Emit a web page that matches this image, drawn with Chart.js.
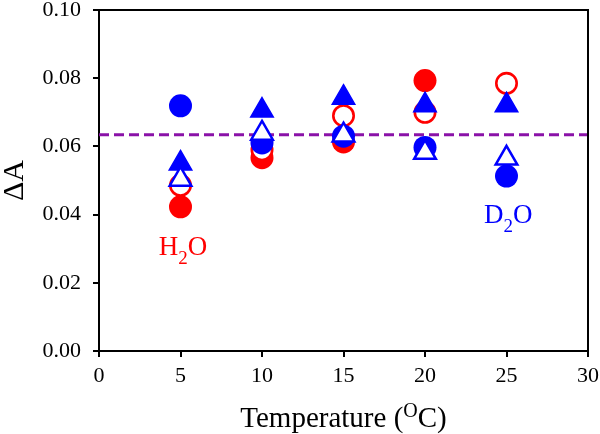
<!DOCTYPE html>
<html>
<head>
<meta charset="utf-8">
<script src="https://cdn.jsdelivr.net/npm/chart.js@4.4.1/dist/chart.umd.min.js"></script>
<style>
    html, body { margin: 0; padding: 0; background: #ffffff; }
</style>
</head>
<body>
<canvas id="deltaChart" width="600" height="434"></canvas>
<script>
// Data
const temps = [5, 10, 15, 20, 25];
const h2oFilled = [0.0423, 0.0567, 0.0613, 0.0793, null];
const h2oOpen = [0.0486, 0.0590, 0.0690, 0.0700, 0.0785];
const d2oCircle = [0.0719, 0.0610, 0.0630, 0.0597, 0.0513];
const d2oTriFilled = [0.0550, 0.0705, 0.0743, 0.0721, 0.0721];
const d2oTriOpen = [0.0503, 0.0638, 0.0633, 0.0582, 0.0565];
const meanLevel = 0.0634;
const xRange = [0, 30];
const yTickLabels = ['0.00', '0.02', '0.04', '0.06', '0.08', '0.10'];
const xTickLabels = ['0', '5', '10', '15', '20', '25', '30'];
// in-plot labels: [text, subscript, rest, x, y, colour]
const seriesLabels = [
    ['H', '2', 'O', 5.15, 0.0282, '#ff0000'],
    ['D', '2', 'O', 25.1, 0.0375, '#0000ff']
];

const RED = '#ff0000';
const BLUE = '#0000ff';
const SERIF = "'Liberation Serif', 'Times New Roman', serif";

function toPoints(values) {
    const pts = [];
    values.forEach((v, i) => {
        if (v !== null) pts.push({ x: temps[i], y: v });
    });
    return pts;
}

// Frame, axis titles and H2O / D2O labels
const decorPlugin = {
    id: 'decor',
    afterDraw(chart) {
        const ctx = chart.ctx;
        const area = chart.chartArea;
        ctx.save();

        // top and right frame
        ctx.strokeStyle = '#000';
        ctx.lineWidth = 2;
        ctx.beginPath();
        ctx.moveTo(area.left, area.top);
        ctx.lineTo(area.right, area.top);
        ctx.lineTo(area.right, area.bottom);
        ctx.stroke();

        // x title with superscript
        ctx.fillStyle = '#000';
        ctx.textBaseline = 'alphabetic';
        ctx.textAlign = 'left';
        const big = '29px ' + SERIF;
        const small = '20px ' + SERIF;
        ctx.font = big;
        const w1 = ctx.measureText('Temperature (').width;
        const w3 = ctx.measureText('C)').width;
        ctx.font = small;
        const w2 = ctx.measureText('O').width;
        let x = (area.left + area.right) / 2 - (w1 + w2 + w3) / 2;
        const base = 427;
        ctx.font = big;
        ctx.fillText('Temperature (', x, base);
        ctx.font = small;
        ctx.fillText('O', x + w1, base - 10);
        ctx.font = big;
        ctx.fillText('C)', x + w1 + w2, base);

        // y title
        ctx.save();
        ctx.translate(23, (area.top + area.bottom) / 2);
        ctx.rotate(-Math.PI / 2);
        ctx.textAlign = 'center';
        ctx.font = '30px ' + SERIF;
        ctx.fillText('\u0394A', 0, 0);
        ctx.restore();

        // series labels
        const xs = chart.scales.x;
        const ys = chart.scales.y;
        seriesLabels.forEach(([a, sub, b, vx, vy, color]) => {
            const f1 = '27px ' + SERIF;
            const f2 = '19px ' + SERIF;
            ctx.font = f1;
            const wa = ctx.measureText(a).width;
            const wb = ctx.measureText(b).width;
            ctx.font = f2;
            const ws = ctx.measureText(sub).width;
            let lx = xs.getPixelForValue(vx) - (wa + ws + wb) / 2;
            const ly = ys.getPixelForValue(vy);
            ctx.fillStyle = color;
            ctx.font = f1;
            ctx.fillText(a, lx, ly);
            ctx.font = f2;
            ctx.fillText(sub, lx + wa, ly + 9);
            ctx.font = f1;
            ctx.fillText(b, lx + wa + ws, ly);
        });

        ctx.restore();
    }
};

const ctx = document.getElementById('deltaChart').getContext('2d');
const deltaChart = new Chart(ctx, {
    type: 'scatter',
    data: {
        datasets: [{
            label: 'D2O open triangle',
            data: toPoints(d2oTriOpen),
            pointStyle: 'triangle',
            pointRadius: 12.5,
            backgroundColor: '#ffffff',
            borderColor: BLUE,
            borderWidth: 2.5,
            order: 1
        }, {
            label: 'D2O filled triangle',
            data: toPoints(d2oTriFilled),
            pointStyle: 'triangle',
            pointRadius: 13,
            backgroundColor: BLUE,
            borderColor: BLUE,
            borderWidth: 1.5,
            order: 2
        }, {
            label: 'D2O filled circle',
            data: toPoints(d2oCircle),
            pointStyle: 'circle',
            pointRadius: 11.5,
            backgroundColor: BLUE,
            borderColor: BLUE,
            borderWidth: 0,
            order: 3
        }, {
            label: 'H2O open circle',
            data: toPoints(h2oOpen),
            pointStyle: 'circle',
            pointRadius: 10.2,
            backgroundColor: '#ffffff',
            borderColor: RED,
            borderWidth: 2.6,
            order: 4
        }, {
            label: 'H2O filled circle',
            data: toPoints(h2oFilled),
            pointStyle: 'circle',
            pointRadius: 11.5,
            backgroundColor: RED,
            borderColor: RED,
            borderWidth: 0,
            order: 5
        }, {
            label: 'mean',
            data: [{ x: xRange[0], y: meanLevel }, { x: xRange[1], y: meanLevel }],
            showLine: true,
            pointRadius: 0,
            borderColor: '#8a12a8',
            borderWidth: 3,
            borderDash: [10, 5],
            order: 6
        }]
    },
    options: {
        responsive: false,
        animation: false,
        layout: {
            autoPadding: false,
            padding: { top: 10, right: 12, left: 0, bottom: 0 }
        },
        plugins: {
            legend: { display: false },
            tooltip: { enabled: false }
        },
        scales: {
            x: {
                type: 'linear',
                min: xRange[0],
                max: xRange[1],
                ticks: {
                    stepSize: 5,
                    color: '#000',
                    padding: 6,
                    font: { family: SERIF, size: 22 },
                    callback: (v, i) => xTickLabels[i]
                },
                grid: {
                    drawOnChartArea: false,
                    drawTicks: true,
                    tickLength: 6,
                    color: '#000',
                    lineWidth: 2
                },
                border: { color: '#000', width: 2 },
                afterFit(scale) {
                    scale.height = 83;
                    scale.paddingLeft = 0;
                    scale.paddingRight = 0;
                }
            },
            y: {
                min: 0,
                max: 0.1,
                ticks: {
                    stepSize: 0.02,
                    color: '#000',
                    padding: 12,
                    font: { family: SERIF, size: 22 },
                    callback: (v, i) => yTickLabels[i]
                },
                grid: {
                    drawOnChartArea: false,
                    drawTicks: true,
                    tickLength: 6,
                    color: '#000',
                    lineWidth: 2
                },
                border: { color: '#000', width: 2 },
                afterFit(scale) {
                    scale.width = 99;
                    scale.paddingTop = 0;
                    scale.paddingBottom = 0;
                }
            }
        }
    },
    plugins: [decorPlugin]
});
</script>
</body>
</html>
